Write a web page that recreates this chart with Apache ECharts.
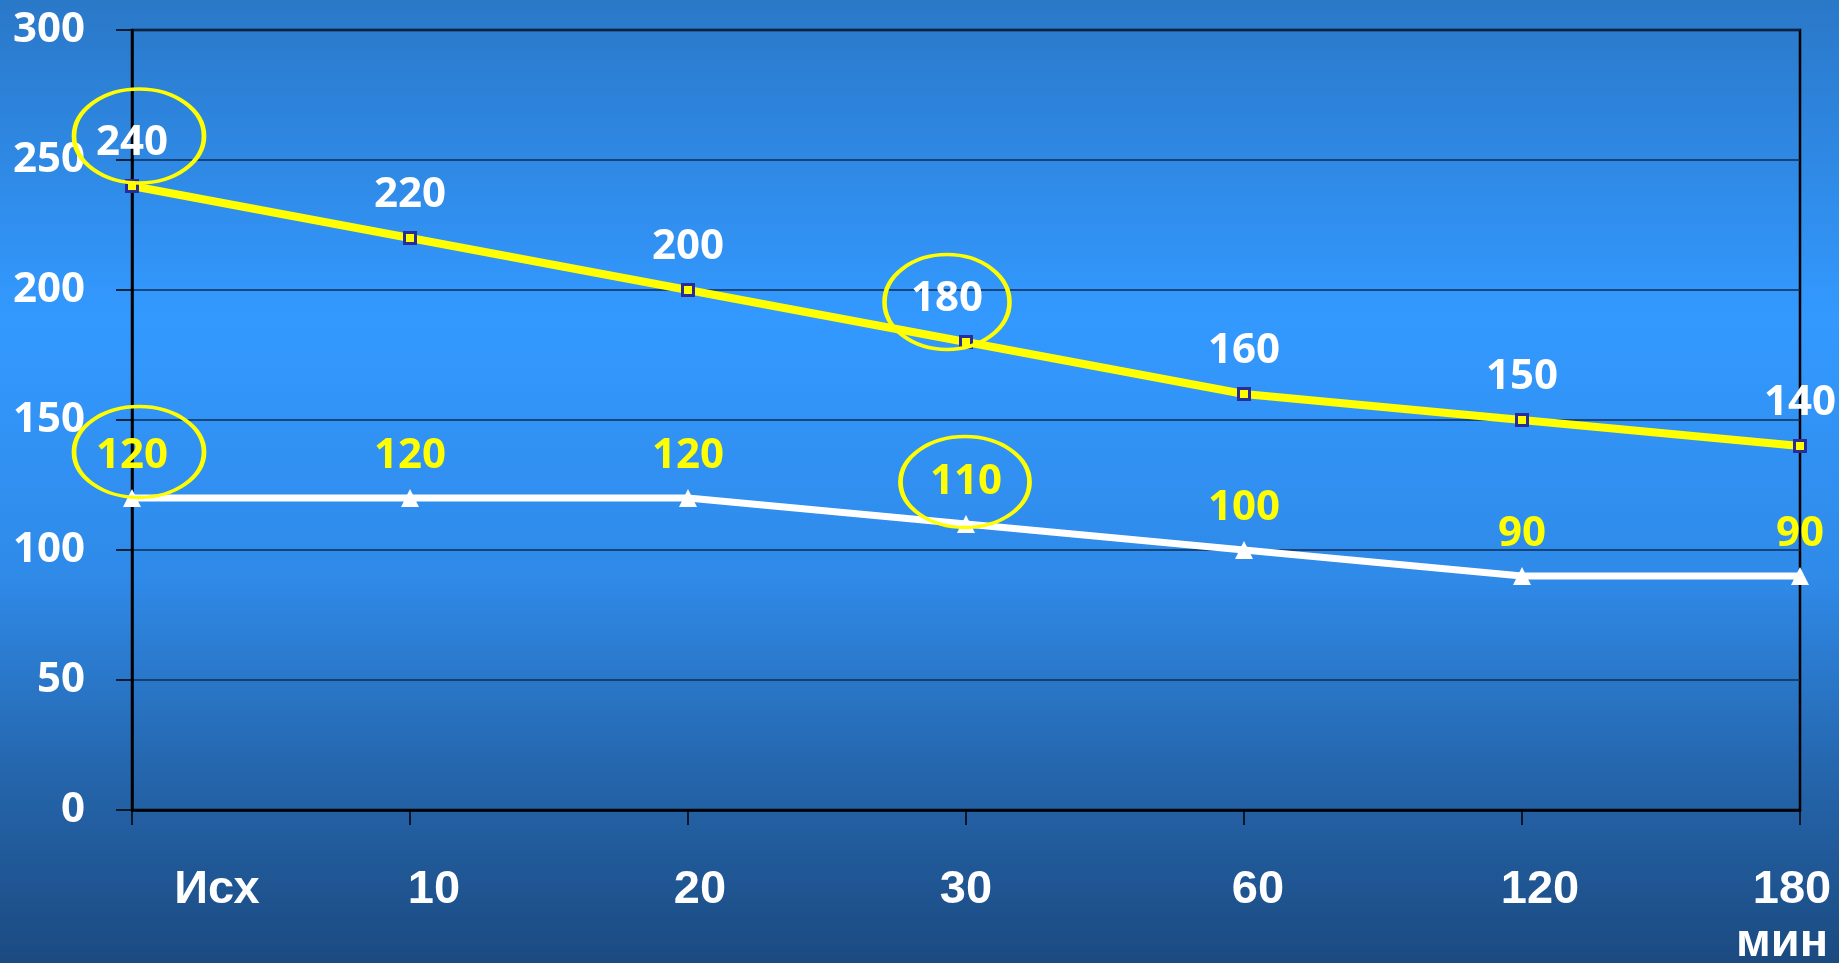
<!DOCTYPE html>
<html>
<head>
<meta charset="utf-8">
<script src="https://cdn.jsdelivr.net/npm/echarts@6/dist/echarts.min.js"></script>
<style>
html,body{margin:0;padding:0;width:1839px;height:963px;overflow:hidden;}
#c{width:1839px;height:963px;}
</style>
</head>
<body>
<div id="c"></div>
<script>
const categories = ['Исх', '10', '20', '30', '60', '120', '180'];
const upperValues = [240, 220, 200, 180, 160, 150, 140];
const lowerValues = [120, 120, 120, 110, 100, 90, 90];
const unitLabel = 'мин';

// horizontal label shifts (px) as seen in the source slide
const labelShift = [85, 24, 12, 0, 14, 18, -8];

const ellipse = 'path://M0,50A50,50,0,1,1,100,50A50,50,0,1,1,0,50Z';

const rich = {};
labelShift.forEach((dx, i) => {
  rich['r' + i] = {
    color: '#ffffff', fontFamily: 'Liberation Sans, Arial, sans-serif', fontWeight: 'bold',
    fontSize: 47, lineHeight: 53,
    padding: dx >= 0 ? [0, 0, 0, 2 * dx] : [0, -2 * dx, 0, 0]
  };
});
rich.unit = {
  color: '#ffffff', fontFamily: 'Liberation Sans, Arial, sans-serif', fontWeight: 'bold',
  fontSize: 47, lineHeight: 53, padding: [0, 36, 0, 0]
};

const chart = echarts.init(document.getElementById('c'));
chart.setOption({
  animation: false,
  backgroundColor: {
    type: 'linear', x: 0, y: 0, x2: 0, y2: 1,
    colorStops: [
      { offset: 0, color: '#2a78c8' },
      { offset: 0.33, color: '#3399ff' },
      { offset: 0.6, color: '#2f8ae8' },
      { offset: 0.8, color: '#2566ad' },
      { offset: 1, color: '#1b4a80' }
    ]
  },
  grid: {
    left: 132, right: 39, top: 30, bottom: 153, containLabel: false, outerBoundsMode: 'none',
    show: true, borderColor: '#000', borderWidth: 2.5, backgroundColor: 'transparent'
  },
  xAxis: {
    type: 'category', data: categories, boundaryGap: false,
    axisLine: { lineStyle: { color: '#000', width: 2.5 } },
    axisTick: { show: true, length: 15, lineStyle: { color: '#000', width: 1.5 } },
    axisLabel: {
      interval: 0, margin: 54, hideOverlap: false,
      formatter: (v, i) => i === categories.length - 1
        ? '{r' + i + '|' + v + '}\n{unit|' + unitLabel + '}'
        : '{r' + i + '|' + v + '}',
      rich: rich
    },
    splitLine: { show: false }
  },
  yAxis: {
    type: 'value', min: 0, max: 300, interval: 50,
    axisLine: { show: true, lineStyle: { color: '#000', width: 2.5 } },
    axisTick: { show: true, length: 16, lineStyle: { color: '#000', width: 1.5 } },
    axisLabel: { margin: 47, color: '#fff', fontFamily: 'Open Sans', fontWeight: 'bold', fontSize: 42 },
    splitLine: { lineStyle: { color: '#0f2d55', width: 1.5 } }
  },
  series: [
    {
      type: 'line', data: upperValues.map((v, i) => i === 3 ? { value: v, label: { offset: [-19, 0] } } : v),
      lineStyle: { color: '#ffff00', width: 8 },
      symbol: 'rect', symbolSize: 11,
      itemStyle: { color: '#ffff00', borderColor: '#2b2d96', borderWidth: 3 },
      label: { show: true, position: 'top', distance: 15, color: '#ffffff', fontFamily: 'Open Sans', fontWeight: 'bold', fontSize: 42 },
      markPoint: {
        symbol: ellipse, symbolSize: [130, 94], silent: true,
        itemStyle: { color: 'rgba(0,0,0,0)', borderColor: '#ffff00', borderWidth: 4 },
        label: { show: false },
        data: [
          { coord: [categories[0], upperValues[0]], symbolOffset: [7, -50] },
          { coord: [categories[3], upperValues[3]], symbolSize: [125, 95], symbolOffset: [-19, -40] }
        ]
      },
      z: 3
    },
    {
      type: 'line', data: lowerValues,
      lineStyle: { color: '#ffffff', width: 7 },
      symbol: 'triangle', symbolSize: 18,
      itemStyle: { color: '#ffffff' },
      label: { show: true, position: 'top', distance: 12, color: '#ffff00', fontFamily: 'Open Sans', fontWeight: 'bold', fontSize: 42 },
      markPoint: {
        symbol: ellipse, symbolSize: [130, 91], silent: true,
        itemStyle: { color: 'rgba(0,0,0,0)', borderColor: '#ffff00', borderWidth: 4 },
        label: { show: false },
        data: [
          { coord: [categories[0], lowerValues[0]], symbolOffset: [7, -46] },
          { coord: [categories[3], lowerValues[3]], symbolSize: [129, 91], symbolOffset: [-1, -42] }
        ]
      },
      z: 3
    }
  ]
});
</script>
</body>
</html>
